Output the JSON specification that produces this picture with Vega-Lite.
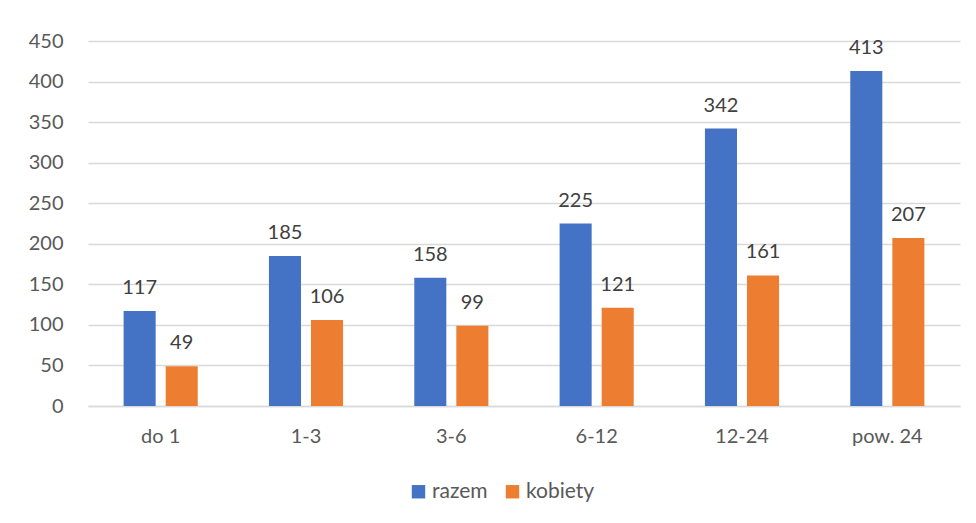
{
  "$schema": "https://vega.github.io/schema/vega-lite/v6.json",
  "width": 872,
  "height": 365,
  "autosize": {"type": "none"},
  "padding": {"left": 88, "top": 41, "right": 16, "bottom": 117},
  "background": "white",
  "config": {
    "view": {"stroke": null},
    "font": "Lato",
    "axis": {"labelFont": "Lato", "labelColor": "#595959", "labelFontSize": 20},
    "legend": {"labelFont": "Lato", "labelColor": "#595959", "labelFontSize": 21}
  },
  "data": {
    "values": [
      {"cat": "do 1", "series": "razem", "value": 117},
      {"cat": "do 1", "series": "kobiety", "value": 49},
      {"cat": "1-3", "series": "razem", "value": 185},
      {"cat": "1-3", "series": "kobiety", "value": 106},
      {"cat": "3-6", "series": "razem", "value": 158},
      {"cat": "3-6", "series": "kobiety", "value": 99},
      {"cat": "6-12", "series": "razem", "value": 225},
      {"cat": "6-12", "series": "kobiety", "value": 121},
      {"cat": "12-24", "series": "razem", "value": 342},
      {"cat": "12-24", "series": "kobiety", "value": 161},
      {"cat": "pow. 24", "series": "razem", "value": 413},
      {"cat": "pow. 24", "series": "kobiety", "value": 207}
    ]
  },
  "encoding": {
    "x": {
      "field": "cat", "type": "nominal", "sort": null,
      "scale": {"paddingInner": 0.49, "paddingOuter": 0.245},
      "axis": {"title": null, "labelAngle": 0, "ticks": false, "domainColor": "#d9d9d9", "domainWidth": 1.5, "labelPadding": 20}
    },
    "xOffset": {
      "field": "series", "type": "nominal", "sort": ["razem", "kobiety"],
      "scale": {"paddingInner": 0.238, "paddingOuter": 0}
    },
    "y": {
      "field": "value", "type": "quantitative",
      "scale": {"domain": [0, 450]},
      "axis": {"title": null, "values": [0,50,100,150,200,250,300,350,400,450], "ticks": false, "domain": false, "gridColor": "#d9d9d9", "gridWidth": 1.5, "labelPadding": 25}
    }
  },
  "layer": [
    {
      "mark": {"type": "bar"},
      "encoding": {
        "color": {
          "field": "series", "type": "nominal", "sort": ["razem", "kobiety"],
          "scale": {"domain": ["razem", "kobiety"], "range": ["#4472C4", "#ED7D31"]},
          "legend": {"title": null, "orient": "none", "direction": "horizontal", "legendX": 320, "legendY": 440, "symbolType": "square", "symbolSize": 180, "symbolStrokeWidth": 0, "columnPadding": 14, "labelOffset": 3}
        }
      }
    },
    {
      "mark": {"type": "text", "baseline": "bottom", "dy": -13, "fontSize": 20, "color": "#404040", "font": "Lato"},
      "encoding": {"text": {"field": "value", "type": "quantitative"}}
    }
  ]
}
